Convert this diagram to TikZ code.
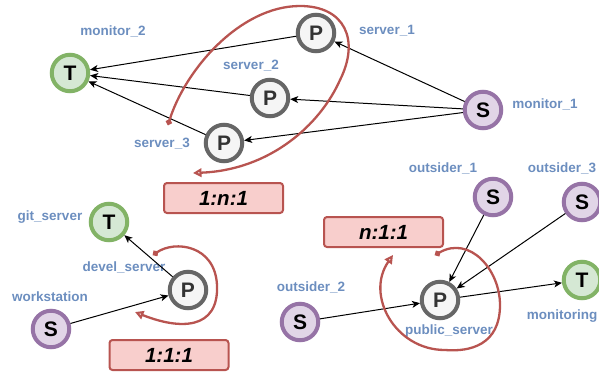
\documentclass[tikz,border=0pt]{standalone}
\usepackage{fontspec}
\setmainfont{Liberation Sans}
\usetikzlibrary{arrows.meta}
\definecolor{tfill}{HTML}{D5E8D4}
\definecolor{tstroke}{HTML}{82B366}
\definecolor{pfill}{HTML}{F5F5F5}
\definecolor{pstroke}{HTML}{666666}
\definecolor{sfill}{HTML}{E1D5E7}
\definecolor{sstroke}{HTML}{9673A6}
\definecolor{lblc}{HTML}{6C8EBF}
\definecolor{rfill}{HTML}{F8CECC}
\definecolor{rstroke}{HTML}{B85450}
\tikzset{
  base/.style={circle, minimum size=36.5pt, inner sep=0pt, line width=4pt,
    font=\fontsize{21}{21}\selectfont\bfseries},
  tn/.style={base, draw=tstroke, fill=tfill},
  pn/.style={base, draw=pstroke, fill=pfill, text=black!80},
  sn/.style={base, draw=sstroke, fill=sfill},
  lbl/.style={text=lblc, font=\fontsize{13.5}{15}\selectfont\bfseries, inner sep=0pt},
  ratio/.style={draw=rstroke, fill=rfill, line width=2pt, rounded corners=3pt,
    minimum width=119pt, minimum height=30pt, inner sep=0pt,
    font=\fontsize{20.5}{20.5}\selectfont\bfseries\itshape},
  edge/.style={draw=black, line width=1pt, -{Stealth[length=8pt,width=7pt,inset=2.2pt]}},
  loopc/.style={draw=rstroke, line width=2.3pt,
    {Circle[open,length=6pt,width=6pt]}-{Triangle[open,length=8.5pt,width=8.5pt]}}
}
\begin{document}
\begin{tikzpicture}[x=1pt,y=-1pt]
\useasboundingbox (0,0) rectangle (599,373);
% top group
\node[tn] (mon2) at (70,73) {T};
\node[pn] (srv1) at (316,33) {P};
\node[pn] (srv2) at (270,98) {P};
\node[pn] (srv3) at (224,143) {P};
\node[sn] (mon1) at (483,110) {S};
\node[lbl] at (113,31) {monitor\_2};
\node[lbl] at (387,31) {server\_1};
\node[lbl] at (251,66) {server\_2};
\node[lbl] at (162,144) {server\_3};
\node[lbl] at (545,104) {monitor\_1};
\draw[edge] (mon1) -- (srv1);
\draw[edge] (mon1) -- (srv2);
\draw[edge] (mon1) -- (srv3);
\draw[edge] (srv1) -- (mon2);
\draw[edge] (srv2) -- (mon2);
\draw[edge] (srv3) -- (mon2);
\node[ratio] (r1) at (223.5,198) {1:n:1};
\coordinate (c1s) at (168,125);
\coordinate (c1e) at (193,173);
\draw[loopc] (c1s) .. controls (185,70) and (240,6) .. (300,6)
  .. controls (345,6) and (360,40) .. (340,80)
  .. controls (320,125) and (270,170) .. (c1e);
% bottom-left group
\node[tn] (git) at (109,222) {T};
\node[pn] (dev) at (188,290) {P};
\node[sn] (ws) at (51,329) {S};
\node[lbl] at (50,217) {git\_server};
\node[lbl] at (124,267) {devel\_server};
\node[lbl] at (50,297) {workstation};
\draw[edge] (ws) -- (dev);
\draw[edge] (dev) -- (git);
\node[ratio] (r2) at (169,355) {1:1:1};
\coordinate (c2s) at (153,255);
\coordinate (c2e) at (135,312);
\draw[loopc] (c2s) .. controls (175,240) and (215,245) .. (217,285)
  .. controls (219,330) and (180,330) .. (c2e);
% bottom-right group
\node[sn] (out1) at (493,197) {S};
\node[sn] (out3) at (582,202) {S};
\node[tn] (moni) at (582,280) {T};
\node[pn] (pub) at (440,300) {P};
\node[sn] (out2) at (300,322) {S};
\node[lbl] at (443,168) {outsider\_1};
\node[lbl] at (562,168) {outsider\_3};
\node[lbl] at (311,287) {outsider\_2};
\node[lbl] at (449,331) {public\_server};
\node[lbl] at (562,316) {monitoring};
\draw[edge] (out1) -- (pub);
\draw[edge] (out3) -- (pub);
\draw[edge] (out2) -- (pub);
\draw[edge] (pub) -- (moni);
\node[ratio] (r3) at (383.5,232) {n:1:1};
\coordinate (c3s) at (435,255);
\coordinate (c3e) at (393,255);
\draw[loopc] (c3s) .. controls (470,235) and (500,270) .. (500,305)
  .. controls (500,345) and (470,352) .. (445,350)
  .. controls (395,350) and (365,295) .. (c3e);
\end{tikzpicture}
\end{document}
